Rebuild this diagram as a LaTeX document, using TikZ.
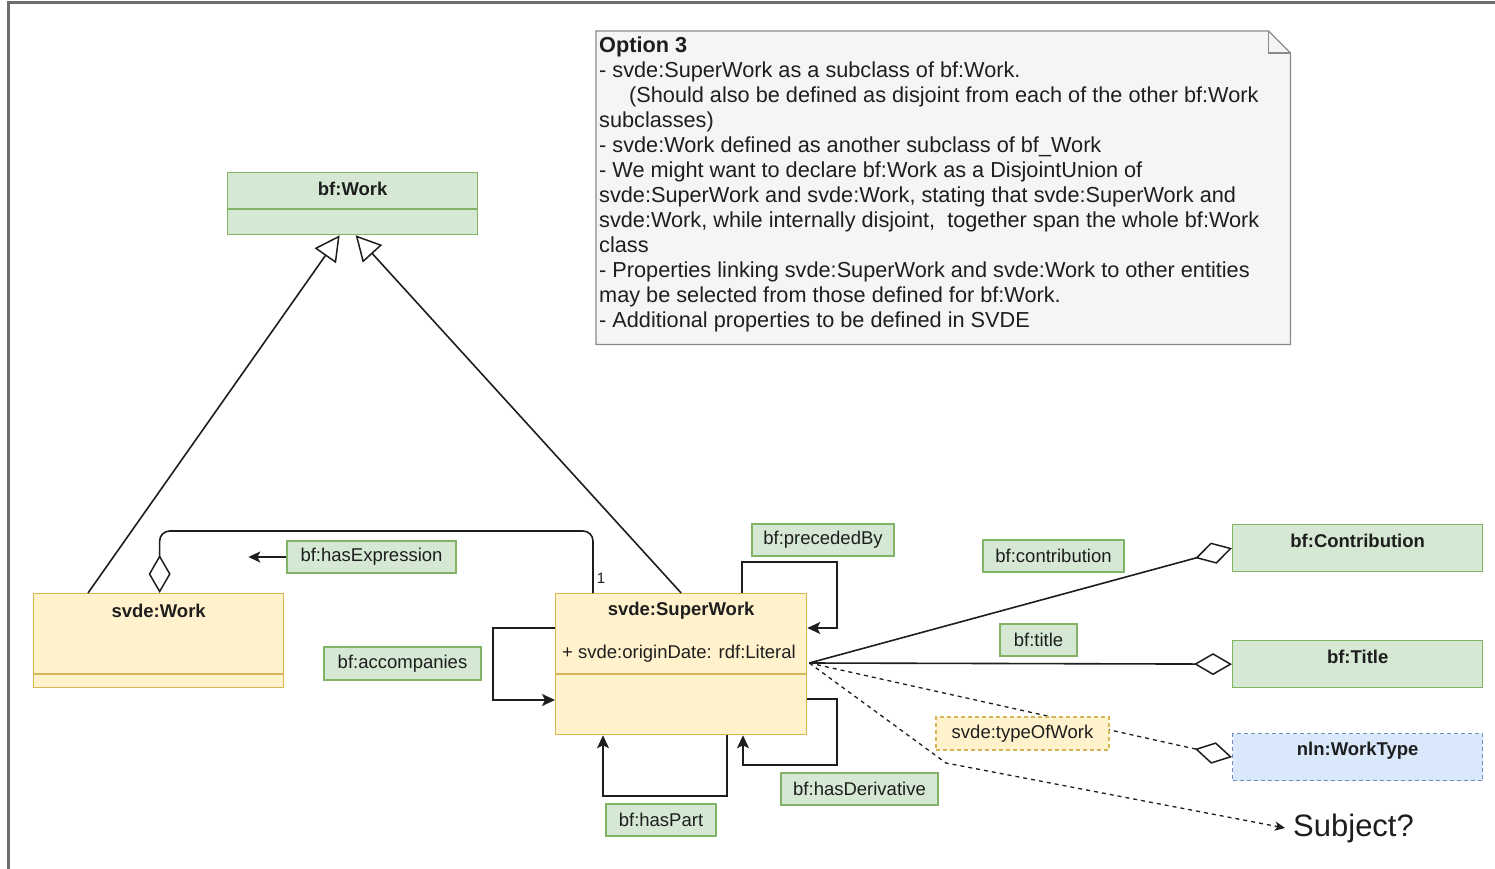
\documentclass[tikz,border=0pt]{standalone}
\usepackage{fontspec}
\setmainfont{Liberation Sans}
\usetikzlibrary{arrows.meta,calc}
\definecolor{gfill}{HTML}{D5E8D4}
\definecolor{gline}{HTML}{82B366}
\definecolor{yfill}{HTML}{FFF2CC}
\definecolor{yline}{HTML}{D6B656}
\definecolor{bfill}{HTML}{DAE8FC}
\definecolor{bline}{HTML}{6C8EBF}
\definecolor{nfill}{HTML}{F5F5F5}
\definecolor{nline}{HTML}{8A8A8A}
\definecolor{ink}{HTML}{1E1E1E}
\definecolor{frame}{HTML}{6E6E6E}
\begin{document}
\begin{tikzpicture}[x=1pt,y=-1pt,
  every node/.style={text=ink},
  lbl/.style={font=\fontsize{18.5}{22}\selectfont},
  bld/.style={font=\bfseries\fontsize{18.5}{22}\selectfont},
  classbox/.style={draw=yline, fill=yfill, line width=1.3pt, rectangle, anchor=north west, inner sep=0pt},
  gbox/.style={draw=gline, fill=gfill, line width=1.3pt, rectangle, anchor=north west, inner sep=0pt, minimum width=250pt},
  lab/.style={draw=gline, fill=gfill, line width=1.2pt, rectangle, inner sep=0pt, lbl},
  cline/.style={draw=ink, line width=1.6pt},
  gen/.style={cline, -{Triangle[open, length=25pt, width=26pt, line width=1.5pt]}},
  agg/.style={cline, -{Diamond[open, length=38pt, width=22pt, line width=1.5pt]}},
  arr/.style={cline, -{Stealth[length=13pt, width=12pt, inset=3pt]}},
  dsh/.style={cline, line width=1.3pt, dash pattern=on 4pt off 4pt},
]
\useasboundingbox (0,0) rectangle (1495,869);
\fill[white] (0,0) rectangle (1495,869);
\draw[frame, line width=2.5pt] (8.5,869) -- (8.5,2.5) -- (1495,2.5);

% note
\node[anchor=north west, minimum width=694pt, minimum height=313pt, inner sep=0pt] (note) at (596,31) {};
\draw[fill=nfill, draw=nline, line width=1.3pt] (note.north west) -- ($(note.north east)+(-22,0)$) -- ($(note.north east)+(0,22)$) -- (note.south east) -- (note.south west) -- cycle;
\draw[draw=nline, line width=1.3pt] ($(note.north east)+(-22,0)$) -- ($(note.north east)+(-22,22)$) -- ($(note.north east)+(0,22)$);
\node[anchor=north west, align=left, inner sep=0pt, font=\fontsize{21.7}{25}\selectfont] (notetxt) at (599,37) {\textbf{Option 3}\\
- svde:SuperWork as a subclass of bf:Work.\\
\hspace*{30pt}(Should also be defined as disjoint from each of the other bf:Work\\
subclasses)\\
- svde:Work defined as another subclass of bf\_Work\\
- We might want to declare bf:Work as a DisjointUnion of\\
svde:SuperWork and svde:Work, stating that svde:SuperWork and\\
svde:Work, while internally disjoint,\ \ together span the whole bf:Work\\
class\\
- Properties linking svde:SuperWork and svde:Work to other entities\\
may be selected from those defined for bf:Work.\\
- Additional properties to be defined in SVDE};

% bf:Work
\node[gbox, minimum height=62pt] (bfwork) at (227,172) {};
\node[bld] (bfworkT) at ($(bfwork.north)+(0,17)$) {bf:Work};
\draw[gline, line width=1.3pt] ($(bfwork.north west)+(0,37)$) -- ($(bfwork.north east)+(0,37)$);

% svde:Work
\node[classbox, minimum width=250pt, minimum height=94pt] (work) at (33,593) {};
\node[bld] (workT) at ($(work.north)+(0,18)$) {svde:Work};
\draw[yline, line width=1.3pt] ($(work.north west)+(0,81)$) -- ($(work.north east)+(0,81)$);

% svde:SuperWork
\node[classbox, minimum width=251pt, minimum height=141pt] (super) at (555,593) {};
\node[bld] (superT) at ($(super.north)+(0,18)$) {svde:SuperWork};
\node[lbl, anchor=west, inner sep=0pt] (superA) at ($(super.north west)+(7,61)$) {+ svde:originDate: rdf:Literal};
\draw[yline, line width=1.3pt] ($(super.north west)+(0,81)$) -- ($(super.north east)+(0,81)$);

% right classes
\node[gbox, minimum height=47pt] (contrib) at (1232,524) {};
\node[bld] (contribT) at ($(contrib.north)+(0,17)$) {bf:Contribution};
\node[gbox, minimum height=47pt] (btitle) at (1232,640) {};
\node[bld] (btitleT) at ($(btitle.north)+(0,17)$) {bf:Title};
\node[gbox, draw=bline, fill=bfill, dash pattern=on 4pt off 3pt, minimum height=47pt] (wtype) at (1232,733) {};
\node[bld] (wtypeT) at ($(wtype.north)+(0,18)$) {nln:WorkType};
\node[font=\fontsize{31}{36}\selectfont, anchor=west, inner sep=8pt] (subj) at (1285,828) {Subject?};

% labels
\node[lab, minimum width=169pt, minimum height=32pt] (lhasexp) at (371.5,557) {bf:hasExpression};
\node[lab, minimum width=157pt, minimum height=33pt] (laccomp) at (402.5,663.5) {bf:accompanies};
\node[lab, minimum width=142pt, minimum height=32pt] (lpreced) at (823,540) {bf:precededBy};
\node[lab, minimum width=141pt, minimum height=32pt] (lcontrib) at (1053.5,556) {bf:contribution};
\node[lab, minimum width=77pt, minimum height=32pt] (ltitle) at (1038.5,640) {bf:title};
\node[lab, minimum width=157pt, minimum height=32pt] (lderiv) at (859.5,789) {bf:hasDerivative};
\node[lab, minimum width=110pt, minimum height=32pt] (lpart) at (661,820) {bf:hasPart};

% generalizations
\draw[gen] ($(work.north west)+(55,0)$) -- ($(bfwork.south)+(-13,0)$);
\draw[gen] (super.north) -- ($(bfwork.south)+(3,0)$);

% hasExpression
\draw[agg, rounded corners=10pt] ($(super.north west)+(38,0)$) |- ($(work.north)+(1,-62)$) -- ($(work.north)+(1,0)$);
\draw[cline, -{Stealth[length=12pt, width=11pt, inset=3pt]}] (lhasexp.west) -- ++(-38,0);
\node[font=\fontsize{15}{17}\selectfont, inner sep=0pt] (one) at (601,578) {1};

% self loops
\draw[arr] ($(super.north west)+(187,0)$) |- (837,562) |- ($(super.north east)+(0,35)$);
\draw[arr] ($(super.north west)+(0,35)$) -| (493,700) -- ($(super.north west)+(0,107)$);
\draw[arr] ($(super.south west)+(172,0)$) |- (603,796) -- ($(super.south west)+(48,0)$);
\draw[arr] ($(super.north east)+(0,106)$) -| (837,765) -| ($(super.south west)+(188,0)$);

% associations
\coordinate (src) at ($(super.north east)+(2,70)$);
\draw[agg] (src) -- (contrib.west);
\draw[agg] (src) -- (btitle.west);
\draw[dsh, -{Diamond[open, length=38pt, width=22pt, line width=1.5pt]}] (src) -- (wtype.west);
\draw[dsh, -{Stealth[length=10pt, width=9pt, inset=2.5pt]}] (src) -- (946,763) -- (subj.west);
\node[lab, draw=yline, fill=yfill, dash pattern=on 4pt off 3pt, minimum width=173pt, minimum height=33pt] (ltow) at (1022.5,733.5) {svde:typeOfWork};
\end{tikzpicture}
\end{document}
